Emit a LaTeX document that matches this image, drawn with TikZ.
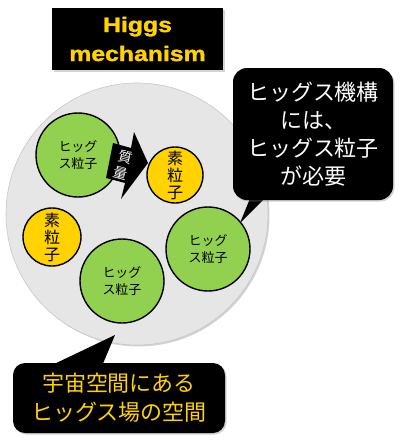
\documentclass[tikz,border=0pt]{standalone}
\usepackage{fontspec}
\setmainfont{Liberation Sans}
\newfontfamily\jp{Noto Sans CJK JP}
\newfontfamily\titlefont[FakeBold=1.6,FakeStretch=1.18]{Liberation Sans Bold}
\usetikzlibrary{shadows}
\definecolor{hgreen}{HTML}{92D050}
\definecolor{hyellow}{HTML}{FFD200}
\definecolor{hgray}{HTML}{E6E6E6}
\begin{document}
\begin{tikzpicture}[x=1pt,y=-1pt,
  shad/.style={drop shadow={shadow xshift=1.5pt,shadow yshift=-1.5pt,opacity=0.35}},
  higgs/.style={circle, draw=black, line width=1.4pt, fill=hgreen, minimum size=84pt, inner sep=0pt,
     font=\jp\fontsize{13}{17}\selectfont, align=center},
  elem/.style={circle, draw=black, line width=1.4pt, fill=hyellow, minimum size=#1, inner sep=0pt,
     font=\jp\fontsize{16}{17}\selectfont, align=center},
  callout/.style={fill=black, rounded corners=14pt, inner sep=0pt, align=center, shad},
]
\useasboundingbox (0,0) rectangle (400,440);

% field of space
\node[circle, fill=hgray, draw=black!22, line width=0.6pt, minimum size=262pt, inner sep=0pt, shad] (field) at (137,214) {};

% title
\node[fill=black, minimum width=171pt, minimum height=62pt, inner sep=0pt, align=center,
      text=hyellow, font=\titlefont\fontsize{21}{29}\selectfont, shad] (title) at (137.5,39) {Higgs\\mechanism};

% particles
\node[higgs] (h1) at (78,155) {ヒッグ\\ス粒子};
\node[higgs] (h2) at (122,281) {ヒッグ\\ス粒子};
\node[higgs] (h3) at (208,249) {ヒッグ\\ス粒子};

% mass arrow
\fill[black] (113,143) -- (131,148) -- (134,132) -- (148,163) -- (121,199) -- (125,183) -- (106,178) -- cycle;
\node[text=white, rotate=-15, font=\jp\fontsize{14}{17}\selectfont, align=center, inner sep=0pt] (mass) at (123,165) {質\\量};

\node[elem=56pt] (e1) at (175,175) {素\\粒\\子};
\node[elem=58pt] (e2) at (52,237) {素\\粒\\子};

% callout 1
\coordinate (tip1) at (240,223);
\fill[black] (251,196) -- (267,196) -- (tip1) -- cycle;
\node[callout, minimum width=160pt, minimum height=132pt, text=white,
      font=\jp\fontsize{22}{28}\selectfont] (c1) at (313,134) {ヒッグス機構\\には、\\ヒッグス粒子\\が必要};

% callout 2
\coordinate (tip2) at (115,335);
\fill[black] (50,366) -- (102,366) -- (tip2) -- cycle;
\node[callout, rounded corners=12pt, minimum width=212pt, minimum height=70pt, text=hyellow,
      font=\jp\fontsize{22}{29}\selectfont] (c2) at (119,398) {宇宙空間にある\\ヒッグス場の空間};
\end{tikzpicture}
\end{document}
